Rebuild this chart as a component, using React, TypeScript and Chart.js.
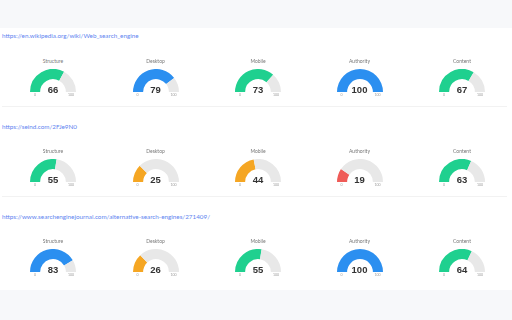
import React, { useEffect, useRef } from "react";
import { Chart, registerables } from "chart.js";

Chart.register(...registerables);

const urls = [
  "https://en.wikipedia.org/wiki/Web_search_engine",
  "https://seind.com/2FJe9N0",
  "https://www.searchenginejournal.com/alternative-search-engines/271409/",
];
const metrics = ["Structure", "Desktop", "Mobile", "Authority", "Content"];
const scoresRow1 = [66, 79, 73, 100, 67];
const scoresRow2 = [55, 25, 44, 19, 63];
const scoresRow3 = [83, 26, 55, 100, 64];
const rows = [scoresRow1, scoresRow2, scoresRow3];
const minLabel = "0";
const maxLabel = "100";

const colorFor = (v: number) =>
  v >= 75 ? "#2b8ff0" : v >= 50 ? "#1fd08f" : v >= 20 ? "#f5a623" : "#ef5b57";

const R = 23;
const colX = [53, 155.5, 258, 359.5, 462];
const rowBottom = [92, 182, 272];

function Gauge({ value, cx, by, title }: { value: number; cx: number; by: number; title: string }) {
  const ref = useRef<HTMLCanvasElement | null>(null);
  useEffect(() => {
    if (!ref.current) return;
    const chart = new Chart(ref.current, {
      type: "doughnut",
      data: {
        labels: ["score", "rest"],
        datasets: [
          {
            data: [value, 100 - value],
            backgroundColor: [colorFor(value), "#e8e8e8"],
            borderWidth: 0,
          },
        ],
      },
      options: {
        responsive: false,
        maintainAspectRatio: false,
        animation: false,
        rotation: -90,
        circumference: 180,
        cutout: "56%",
        layout: { padding: 0 },
        plugins: { legend: { display: false }, tooltip: { enabled: false } },
      },
    });
    return () => chart.destroy();
  }, [value]);
  const small: React.CSSProperties = {
    position: "absolute",
    fontSize: 3.5,
    color: "#9a9a9a",
    fontFamily: "Lato, sans-serif",
    transform: "translate(-50%, -50%)",
    whiteSpace: "nowrap",
  };
  return (
    <>
      <div
        style={{
          position: "absolute",
          left: cx,
          top: by - 31,
          transform: "translate(-50%, -50%)",
          fontSize: 5,
          color: "#777",
          fontFamily: "Lato, sans-serif",
          whiteSpace: "nowrap",
        }}
      >
        {title}
      </div>
      <canvas
        ref={ref}
        width={R * 2}
        height={R}
        style={{ position: "absolute", left: cx - R, top: by - R, width: R * 2, height: R }}
      />
      <div
        style={{
          position: "absolute",
          left: cx,
          top: by - 3.5,
          transform: "translate(-50%, -50%)",
          fontSize: 9.5,
          fontWeight: "bold",
          color: "#333",
          fontFamily: "'Liberation Sans', Arial, sans-serif",
        }}
      >
        {value}
      </div>
      <div style={{ ...small, left: cx - 18, top: by + 3 }}>{minLabel}</div>
      <div style={{ ...small, left: cx + 18, top: by + 3 }}>{maxLabel}</div>
    </>
  );
}

export default function App() {
  return (
    <div
      style={{
        position: "fixed",
        left: 0,
        top: 0,
        width: 512,
        height: 320,
        background: "#f7f8fa",
        overflow: "hidden",
      }}
    >
      <div style={{ position: "absolute", left: 0, top: 28, width: 512, height: 262, background: "#ffffff" }} />
      <div style={{ position: "absolute", left: 2, top: 106, width: 505, height: 1, background: "#f2f2f2" }} />
      <div style={{ position: "absolute", left: 2, top: 196, width: 505, height: 1, background: "#f2f2f2" }} />
      {urls.map((u, i) => (
        <div
          key={u}
          style={{
            position: "absolute",
            left: 2,
            top: 35 + i * 90.5,
            transform: "translateY(-50%)",
            fontSize: 6.3,
            color: "#6285f0",
            fontFamily: "Lato, sans-serif",
            whiteSpace: "nowrap",
          }}
        >
          {u}
        </div>
      ))}
      {rows.map((row, ri) =>
        row.map((v, ci) => (
          <Gauge key={`${ri}-${ci}`} value={v} cx={colX[ci]} by={rowBottom[ri]} title={metrics[ci]} />
        ))
      )}
    </div>
  );
}
